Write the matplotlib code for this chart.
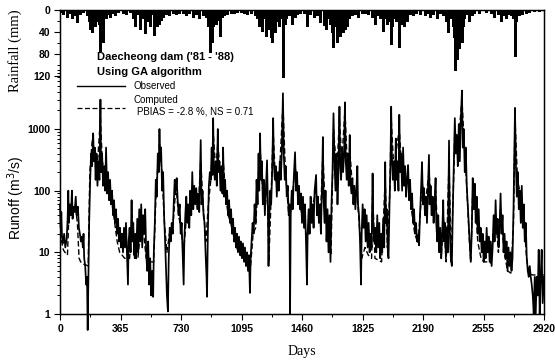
import matplotlib
matplotlib.use("Agg")
import matplotlib.pyplot as plt
from matplotlib.lines import Line2D
from matplotlib.ticker import FixedLocator, NullFormatter

# Observed daily runoff (m3/s)
obs_day = [0, 4, 8, 12, 18, 25, 32, 40, 46, 50, 54, 60, 66, 72, 76, 82, 88, 95, 100, 108, 114, 120, 126,
           132, 138, 142, 146, 152, 158, 163, 167, 171, 176, 182, 188, 194, 200, 205, 210, 215, 220, 226,
           232, 238, 244, 248, 254, 260, 266, 272, 278, 284, 290, 296, 302, 308, 314, 320, 326, 332, 338,
           344, 350, 356, 362, 368, 374, 380, 386, 392, 398, 404, 410, 414, 420, 426, 432, 436, 442, 448,
           454, 460, 466, 472, 478, 484, 490, 496, 502, 508, 514, 520, 526, 532, 538, 544, 550, 556, 562,
           566, 572, 578, 584, 590, 596, 600, 604, 610, 616, 622, 628, 634, 640, 645, 651, 656, 662, 668,
           674, 680, 686, 692, 698, 704, 710, 716, 722, 728, 734, 740, 746, 750, 756, 762, 768, 774, 780,
           786, 792, 798, 804, 810, 816, 822, 828, 834, 840, 849, 854, 860, 866, 872, 878, 884, 887, 892,
           898, 904, 910, 915, 920, 924, 928, 934, 940, 946, 952, 956, 962, 968, 974, 980, 984, 990, 996,
           1002, 1008, 1014, 1020, 1026, 1032, 1038, 1044, 1050, 1056, 1062, 1068, 1074, 1080, 1086, 1092,
           1098, 1104, 1110, 1116, 1122, 1128, 1134, 1140, 1146, 1150, 1156, 1162, 1168, 1174, 1180, 1186,
           1192, 1198, 1202, 1207, 1212, 1218, 1224, 1230, 1236, 1242, 1249, 1254, 1258, 1262, 1268, 1274,
           1280, 1286, 1290, 1296, 1302, 1308, 1314, 1320, 1326, 1332, 1338, 1345, 1350, 1356, 1362, 1368,
           1374, 1380, 1384, 1388, 1392, 1398, 1404, 1410, 1418, 1424, 1430, 1436, 1442, 1448, 1454, 1460,
           1466, 1472, 1478, 1484, 1490, 1494, 1500, 1506, 1512, 1518, 1524, 1530, 1536, 1545, 1550, 1556,
           1562, 1568, 1574, 1580, 1586, 1590, 1596, 1602, 1608, 1614, 1620, 1626, 1632, 1638, 1644, 1650,
           1656, 1662, 1668, 1674, 1680, 1686, 1690, 1696, 1702, 1708, 1714, 1719, 1724, 1730, 1736, 1742,
           1748, 1752, 1758, 1764, 1770, 1776, 1782, 1788, 1794, 1798, 1804, 1810, 1816, 1820, 1826, 1832,
           1838, 1844, 1850, 1856, 1862, 1868, 1874, 1880, 1886, 1890, 1896, 1902, 1908, 1914, 1920, 1926,
           1932, 1938, 1944, 1950, 1956, 1962, 1966, 1972, 1978, 1982, 1988, 1994, 1998, 2002, 2008, 2014,
           2020, 2026, 2030, 2036, 2042, 2047, 2052, 2058, 2064, 2070, 2076, 2082, 2088, 2094, 2100, 2106,
           2112, 2118, 2124, 2130, 2136, 2142, 2148, 2154, 2160, 2166, 2172, 2178, 2184, 2190, 2196, 2202,
           2208, 2214, 2220, 2226, 2230, 2236, 2242, 2248, 2254, 2260, 2266, 2270, 2276, 2282, 2288, 2294,
           2300, 2306, 2312, 2316, 2322, 2328, 2334, 2340, 2347, 2352, 2358, 2364, 2370, 2376, 2382, 2388,
           2394, 2400, 2406, 2412, 2418, 2425, 2430, 2436, 2442, 2448, 2454, 2460, 2466, 2472, 2478, 2484,
           2490, 2496, 2502, 2508, 2514, 2520, 2526, 2532, 2538, 2544, 2550, 2556, 2562, 2568, 2574, 2580,
           2586, 2592, 2598, 2604, 2610, 2616, 2622, 2628, 2634, 2640, 2646, 2652, 2658, 2664, 2670, 2676,
           2682, 2688, 2694, 2700, 2706, 2712, 2718, 2724, 2730, 2736, 2745, 2750, 2756, 2762, 2768, 2774,
           2780, 2786, 2792, 2798, 2804, 2810, 2816, 2822, 2828, 2834, 2840, 2846, 2852, 2858, 2864, 2870,
           2876, 2882, 2888, 2894, 2900, 2906, 2912, 2920]
obs_q = [60, 25, 45, 18, 14, 20, 12, 16, 35, 100, 30, 60, 40, 100, 35, 55, 45, 80, 40, 55, 25, 20, 15,
         18, 12, 20, 8, 6, 3, 4, 0.55, 3, 30, 150, 400, 250, 850, 300, 500, 150, 400, 120,
         300, 150, 3000, 200, 400, 120, 250, 100, 500, 90, 200, 70, 150, 60, 100, 40, 70, 30, 50,
         20, 35, 15, 25, 12, 20, 10, 25, 12, 30, 9, 3, 15, 25, 10, 70, 15, 30, 9,
         20, 8, 35, 10, 50, 15, 60, 12, 40, 20, 50, 10, 5, 15, 3, 8, 2, 5, 1.9,
         10, 30, 150, 80, 400, 200, 1000, 300, 500, 100, 200, 40, 15, 5, 2, 1.1, 8, 25, 15,
         30, 20, 60, 150, 100, 160, 70, 40, 60, 20, 30, 10, 3, 15, 40, 80, 30, 60, 25,
         100, 40, 200, 50, 120, 60, 110, 50, 90, 45, 660, 60, 100, 40, 30, 10, 4, 1.9, 20,
         120, 200, 150, 500, 180, 1500, 250, 150, 300, 120, 1000, 200, 300, 100, 250, 90, 500, 80, 150,
         60, 100, 40, 70, 30, 50, 20, 35, 15, 25, 12, 20, 10, 18, 9, 15,
         8, 14, 7, 12, 6, 10, 5, 9, 2.2, 8, 15, 30, 20, 60, 30, 150,
         60, 400, 100, 850, 150, 300, 60, 150, 40, 100, 310, 60, 6, 30, 100, 60,
         200, 1500, 300, 150, 250, 80, 200, 100, 300, 150, 400, 3800, 400, 150, 250, 80,
         120, 40, 60, 1.0, 40, 100, 50, 150, 420, 100, 200, 60, 120, 50, 90, 30,
         80, 25, 60, 15, 3, 20, 50, 20, 80, 30, 60, 25, 100, 180, 40, 80,
         30, 60, 20, 100, 740, 80, 30, 100, 15, 50, 10, 40, 7, 60, 200, 1800,
         300, 100, 400, 60, 200, 2300, 300, 150, 500, 200, 400, 2700, 300, 150, 400, 120,
         800, 150, 90, 160, 60, 120, 50, 100, 250, 60, 40, 15, 3, 20, 60, 25,
         50, 15, 40, 12, 30, 10, 20, 12, 190, 30, 15, 25, 10, 40, 12, 30,
         8, 20, 10, 35, 12, 290, 30, 50, 10, 8, 60, 300, 2300, 400, 150, 300,
         100, 700, 150, 300, 100, 1700, 200, 400, 100, 500, 120, 250, 80, 150, 260, 70,
         150, 50, 90, 30, 50, 20, 30, 15, 19, 13, 40, 100, 290, 60, 110, 40,
         80, 30, 100, 380, 60, 120, 40, 80, 30, 60, 160, 30, 15, 40, 10, 25,
         8, 20, 70, 15, 30, 8, 25, 10, 650, 20, 8, 6, 50, 300, 1500, 400,
         800, 250, 1200, 300, 1400, 4200, 500, 1000, 200, 500, 120, 60, 30, 15, 7, 20,
         160, 50, 130, 30, 80, 20, 50, 15, 25, 10, 20, 7, 15, 8, 25, 10,
         18, 7, 15, 6, 12, 40, 15, 70, 20, 35, 12, 25, 90, 20, 40, 10,
         20, 8, 15, 5, 12, 6, 10, 5, 8, 50, 2200, 300, 80, 200, 50, 100,
         30, 120, 25, 60, 15, 30, 8, 5, 4, 6, 4, 3, 2, 1, 4, 1,
         4, 2, 11, 1, 4, 11, 1.5, 4]

# Computed runoff (m3/s)
comp_day = [0, 10, 20, 30, 45, 55, 65, 80, 95, 105, 115, 125, 135, 150, 160, 170, 180, 195, 210, 225,
            244, 255, 270, 285, 300, 315, 330, 345, 360, 375, 390, 405, 420, 435, 450, 470, 490, 505,
            520, 535, 550, 565, 580, 600, 615, 630, 645, 660, 680, 700, 715, 730, 745, 760, 780, 800,
            820, 835, 849, 865, 880, 895, 910, 924, 940, 952, 970, 985, 1000, 1015, 1030, 1045, 1060,
            1075, 1090, 1105, 1120, 1135, 1150, 1165, 1180, 1198, 1207, 1225, 1240, 1249, 1260, 1270,
            1286, 1300, 1320, 1345, 1360, 1380, 1395, 1418, 1440, 1460, 1475, 1490, 1510, 1545, 1570,
            1586, 1600, 1620, 1635, 1650, 1670, 1686, 1700, 1719, 1735, 1748, 1765, 1790, 1805, 1820,
            1840, 1860, 1880, 1886, 1900, 1920, 1940, 1962, 1975, 1990, 1998, 2015, 2026, 2047, 2065,
            2080, 2100, 2120, 2140, 2160, 2175, 2184, 2200, 2226, 2245, 2266, 2280, 2300, 2312, 2330,
            2347, 2360, 2376, 2382, 2400, 2425, 2440, 2455, 2470, 2478, 2490, 2505, 2520, 2540, 2560,
            2580, 2600, 2616, 2628, 2645, 2658, 2680, 2700, 2720, 2736, 2745, 2760, 2785, 2800, 2815,
            2830, 2850, 2880, 2920]
comp_q = [40, 15, 11, 10, 9, 50, 40, 45, 50, 30, 8, 7, 6.5, 6.3, 6.2, 6, 200, 700, 400, 250,
          1500, 300, 200, 200, 100, 60, 30, 15, 10, 9, 8, 8, 8, 40, 8, 8, 30, 20,
          8, 7.5, 7, 7, 100, 600, 200, 30, 10, 20, 25, 120, 40, 25, 10, 30, 40, 100,
          80, 60, 300, 50, 15, 60, 150, 900, 200, 600, 150, 300, 80, 40, 30, 20, 14,
          10, 9, 8, 7, 6.5, 6, 20, 25, 200, 500, 80, 60, 200, 7, 40,
          900, 150, 120, 2500, 200, 40, 50, 250, 80, 40, 30, 15, 40, 100, 30,
          400, 50, 15, 9, 1000, 200, 1500, 300, 2000, 200, 500, 100, 100, 30, 8,
          12, 9, 8, 100, 8, 7.5, 7, 150, 12, 100, 1500, 200, 400, 1000, 150,
          150, 150, 50, 20, 14, 50, 150, 50, 200, 50, 100, 20, 8, 40, 7,
          300, 7, 200, 1000, 500, 3000, 500, 100, 15, 7, 100, 80, 15, 8, 7,
          7, 6.7, 25, 40, 10, 50, 10, 5, 4.6, 30, 1500, 150, 70, 30, 8,
          4.5, 4.3, 4.3, 4.3]

# Daily rainfall (mm)
rain_day = [5, 20, 40, 45, 60, 70, 85, 100, 110, 120, 140, 165, 172, 178, 184, 190, 196, 200, 206, 212,
            218, 224, 230, 236, 241, 246, 252, 260, 266, 275, 285, 300, 315, 330, 350,
            380, 400, 420, 440, 450, 465, 480, 490, 500, 510, 520, 530, 545, 555, 565, 575, 585, 592,
            600, 610, 620, 640, 660, 680, 700, 715,
            740, 760, 780, 800, 820, 840, 860, 880, 895, 900, 905, 910, 915, 920, 926, 932, 940, 950,
            965, 975, 990, 1010, 1030, 1050, 1070, 1090,
            1110, 1130, 1150, 1175, 1190, 1200, 1210, 1220, 1230, 1240, 1250, 1260, 1270, 1280, 1290,
            1300, 1310, 1320, 1330, 1345, 1355, 1365, 1380, 1400, 1415, 1430, 1450,
            1470, 1490, 1510, 1530, 1550, 1570, 1590, 1605, 1620, 1630, 1641, 1650, 1660, 1670, 1680,
            1690, 1700, 1710, 1720, 1731, 1745, 1760, 1780, 1800, 1820,
            1840, 1860, 1880, 1900, 1915, 1930, 1950, 1965, 1975, 1985, 1997, 2005, 2015, 2025, 2045,
            2055, 2065, 2075, 2085, 2095, 2110, 2130, 2150, 2170,
            2200, 2215, 2230, 2250, 2275, 2290, 2310, 2330, 2341, 2360, 2370, 2376, 2383, 2390, 2395,
            2400, 2406, 2412, 2418, 2425, 2432, 2440, 2455, 2470, 2485, 2500, 2530,
            2570, 2600, 2620, 2640, 2660, 2675, 2690, 2700, 2720, 2735, 2745, 2752, 2770, 2790, 2810,
            2830, 2860, 2890]
rain_mm = [3, 8, 5, 12, 6, 15, 10, 22, 5, 8, 4, 10, 20, 35, 15, 28, 40, 25, 18, 30,
           12, 20, 10, 25, 75, 15, 20, 58, 10, 15, 8, 12, 5, 10, 3,
           5, 8, 4, 15, 30, 8, 35, 12, 15, 42, 10, 20, 30, 8, 45, 20, 30, 15,
           25, 18, 12, 8, 10, 5, 8, 6,
           5, 10, 6, 12, 8, 15, 10, 12, 30, 25, 77, 35, 20, 59, 30, 15, 25, 18,
           47, 12, 10, 8, 6, 5, 4, 3,
           5, 8, 6, 10, 15, 29, 20, 38, 15, 47, 20, 35, 50, 58, 25,
           40, 20, 30, 15, 122, 25, 15, 10, 25, 12, 8, 5,
           5, 30, 8, 12, 10, 22, 28, 35, 15, 25, 40, 67, 30, 58, 25,
           47, 30, 40, 35, 30, 15, 10, 8, 12, 6,
           5, 8, 12, 25, 10, 15, 38, 15, 25, 20, 62, 30, 15, 20, 67,
           20, 25, 30, 15, 20, 8, 10, 5, 8,
           10, 5, 12, 8, 15, 6, 10, 20, 40, 15, 30, 50, 110, 60, 89,
           40, 70, 35, 55, 58, 30, 15, 8, 20, 10, 5, 6,
           3, 5, 12, 8, 20, 10, 15, 8, 10, 15, 83, 20, 10, 8, 6,
           3, 2, 2]

day_ticks = [0, 365, 730, 1095, 1460, 1825, 2190, 2555, 2920]
runoff_ticks = [1, 10, 100, 1000]
rain_ticks = [0, 40, 80, 120]

plt.rcParams['font.family'] = ['Liberation Sans', 'DejaVu Sans']

fig = plt.figure(figsize=(5.55, 3.6), dpi=100)
ax = fig.add_axes([60 / 555, 46 / 360, 484 / 555, 304 / 360])

ax.plot(obs_day, obs_q, color='k', lw=1.25, clip_on=False)
ax.plot(comp_day, comp_q, color='k', lw=1.0, ls=(0, (4, 2)))
ax.set_yscale('log')
ax.set_xlim(0, 2920)
ax.set_ylim(1, 10 ** 4.93)
ax.set_xticks(day_ticks)
ax.set_xticklabels([str(d) for d in day_ticks], fontsize=7.5, fontweight='bold')
ax.xaxis.set_minor_locator(FixedLocator([d + 182.5 for d in day_ticks[:-1]]))
ax.set_yticks(runoff_ticks)
ax.set_yticklabels([str(v) for v in runoff_ticks], fontsize=7.5, fontweight='bold')
ax.yaxis.set_minor_locator(FixedLocator([k * 10 ** e for e in range(4) for k in range(2, 10)]))
ax.yaxis.set_minor_formatter(NullFormatter())
ax.tick_params(axis='both', which='major', length=4, width=0.8, pad=3)
ax.tick_params(axis='both', which='minor', length=2.5, width=0.7)
for s in ax.spines.values():
    s.set_linewidth(1.0)

# rainfall hangs from the top on a reversed axis
ax2 = ax.twinx()
ax2.vlines(rain_day, 0, rain_mm, color='k', lw=1.0, antialiased=False)
ax2.set_ylim(553, 0)
ax2.yaxis.set_ticks_position('left')
ax2.set_yticks(rain_ticks)
ax2.set_yticklabels([str(v) for v in rain_ticks], fontsize=7.5, fontweight='bold')
ax2.yaxis.set_minor_locator(FixedLocator([20, 60, 100]))
ax2.tick_params(axis='y', which='major', length=4, width=0.8, pad=3)
ax2.tick_params(axis='y', which='minor', length=2.5, width=0.7)

fig.text(302 / 555, 1 - 352 / 360, 'Days', family='Liberation Serif', fontsize=10, ha='center', va='center')
fig.text(15 / 555, 1 - 51 / 360, 'Rainfall (mm)', family='Liberation Serif', fontsize=10.5,
         rotation=90, ha='center', va='center')
fig.text(16 / 555, 1 - 198 / 360, 'Runoff (m$^3$/s)', fontsize=10, rotation=90, ha='center', va='center')

# legend block drawn by hand like the original
fig.text(97 / 555, 1 - 57 / 360, "Daecheong dam ('81 - '88)", fontsize=8, fontweight='bold', va='center')
fig.text(97 / 555, 1 - 72 / 360, 'Using GA algorithm', fontsize=8, fontweight='bold', va='center')
fig.add_artist(Line2D([77 / 555, 125 / 555], [1 - 86 / 360, 1 - 86 / 360], color='k', lw=1.0))
fig.text(133 / 555, 1 - 86 / 360, 'Observed', fontsize=7, va='center')
fig.text(133 / 555, 1 - 100 / 360, 'Computed', fontsize=7, va='center')
fig.add_artist(Line2D([77 / 555, 125 / 555], [1 - 108 / 360, 1 - 108 / 360], color='k', lw=0.9,
                      ls=(0, (4, 2))))
fig.text(137 / 555, 1 - 111 / 360, 'PBIAS = -2.8 %, NS = 0.71', fontsize=7, va='center')

fig.savefig('out.png', dpi=100)
